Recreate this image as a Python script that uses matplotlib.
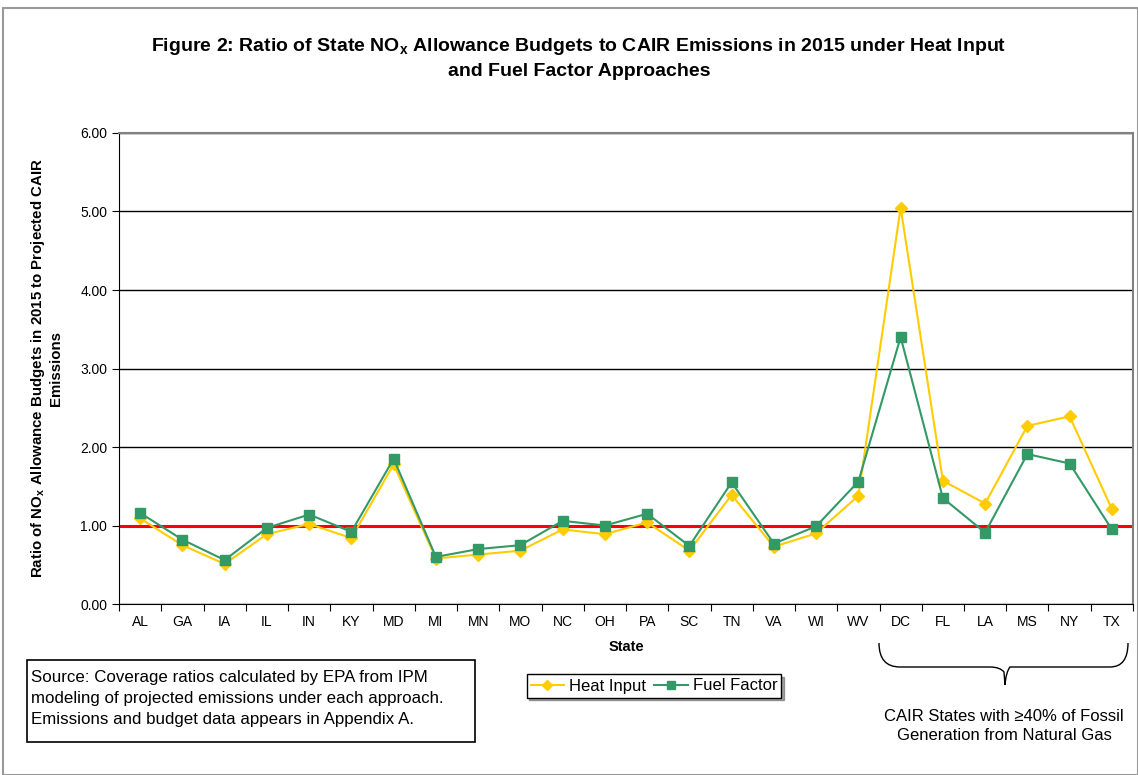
import numpy as np
import matplotlib.pyplot as plt
from matplotlib.patches import Rectangle
from matplotlib.path import Path
from matplotlib.patches import PathPatch

plt.rcParams['font.family'] = ['Liberation Sans', 'DejaVu Sans']

states = ["AL", "GA", "IA", "IL", "IN", "KY", "MD", "MI", "MN", "MO", "NC", "OH",
          "PA", "SC", "TN", "VA", "WI", "WV", "DC", "FL", "LA", "MS", "NY", "TX"]
heat_input = [1.09, 0.75, 0.51, 0.89, 1.02, 0.84, 1.78, 0.58, 0.63, 0.68, 0.95, 0.89,
              1.04, 0.68, 1.39, 0.73, 0.90, 1.38, 5.05, 1.57, 1.28, 2.27, 2.39, 1.21]
fuel_factor = [1.16, 0.82, 0.56, 0.97, 1.14, 0.92, 1.85, 0.60, 0.70, 0.75, 1.06, 1.00,
               1.15, 0.74, 1.55, 0.77, 0.99, 1.56, 3.40, 1.35, 0.91, 1.91, 1.79, 0.95]
yticks = [0, 1, 2, 3, 4, 5, 6]

fig = plt.figure(figsize=(11.38, 7.75), dpi=100)
ax = fig.add_axes([0.1046, 0.2206, 0.891, 0.6078])

def fx(px):
    return px / 1138

def fy(py):
    return 1 - py / 775

x = np.arange(len(states))
ax.plot(x, heat_input, color="#FFCC00", marker="D", markersize=6.5, lw=1.5, label="Heat Input", zorder=3)
ax.plot(x, fuel_factor, color="#339966", marker="s", markersize=7, lw=1.5, label="Fuel Factor", zorder=4)
ax.axhline(1.0, color="#FF0000", lw=2.2, zorder=2)

ax.set_xlim(-0.5, len(states) - 0.5)
ax.set_ylim(0, 6)
ax.set_yticks(yticks)
ax.set_yticklabels(["%.2f" % v for v in yticks], fontsize=10)
ax.yaxis.grid(True, color="black", lw=1)
ax.set_axisbelow(True)

ax.set_xticks(np.arange(-0.5, len(states)), [])
ax.set_xticks(x, states, minor=True, fontsize=10)
ax.tick_params(axis="x", which="major", length=5, direction="out")
ax.tick_params(axis="x", which="minor", length=0, pad=8)
ax.tick_params(axis="y", length=5, direction="out")

ax.spines["left"].set_color("black")
ax.spines["bottom"].set_color("black")
ax.spines["top"].set_color("#808080")
ax.spines["right"].set_color("#808080")
ax.spines["top"].set_linewidth(1.5)
ax.spines["right"].set_linewidth(1.5)

ax.set_xlabel("State", fontsize=10.5, fontweight="bold", labelpad=8)
ax.set_ylabel("Ratio of NO$_\\mathregular{x}$ Allowance Budgets in 2015 to Projected CAIR\nEmissions",
              fontsize=10.8, fontweight="bold", labelpad=12)

fig.text(fx(579), fy(58),
         "Figure 2: Ratio of State NO$_\\mathregular{x}$ Allowance Budgets to CAIR Emissions in 2015 under Heat Input\nand Fuel Factor Approaches",
         ha="center", va="center", fontsize=14, fontweight="bold", linespacing=1.45)

# outer border
fig.patches.append(Rectangle((fx(3), 0), 1 - fx(3), fy(8), transform=fig.transFigure,
                             fill=False, edgecolor="#999999", lw=1.5))

# source box
fig.text(fx(31), fy(670),
         "Source: Coverage ratios calculated by EPA from IPM\nmodeling of projected emissions under each approach.\nEmissions and budget data appears in Appendix A.",
         ha="left", va="top", fontsize=12.2, linespacing=1.5)
fig.patches.append(Rectangle((fx(27), fy(742)), 448 / 1138, 82 / 775, transform=fig.transFigure,
                             fill=False, edgecolor="black", lw=1.2))

leg = ax.legend(loc="center", bbox_to_anchor=(fx(654), fy(686)), bbox_transform=fig.transFigure,
                ncol=2, fontsize=12, frameon=True, fancybox=False, shadow=True,
                handlelength=2.0, handletextpad=0.3, columnspacing=0.5, borderpad=0.25,
                markerscale=0.8)
leg.get_frame().set_edgecolor("black")

# brace under the gas states
verts = [(fx(879), fy(643)), (fx(879), fy(667)), (fx(900), fy(667)), (fx(990), fy(667)),
         (fx(1000), fy(667)), (fx(1004), fy(672)), (fx(1005), fy(685)),
         (fx(1006), fy(672)), (fx(1010), fy(667)), (fx(1020), fy(667)),
         (fx(1110), fy(667)), (fx(1128), fy(667)), (fx(1128), fy(643))]
codes = [Path.MOVETO, Path.CURVE3, Path.CURVE3, Path.LINETO,
         Path.CURVE3, Path.CURVE3, Path.LINETO, Path.CURVE3, Path.CURVE3, Path.LINETO,
         Path.LINETO, Path.CURVE3, Path.CURVE3]
fig.patches.append(PathPatch(Path(verts, codes), transform=fig.transFigure, fill=False,
                             edgecolor="black", lw=1))
fig.text(fx(1004), fy(726), "CAIR States with \u226540% of Fossil\nGeneration from Natural Gas",
         ha="center", va="center", fontsize=12, linespacing=1.4)

plt.savefig("out.png", dpi=100)
